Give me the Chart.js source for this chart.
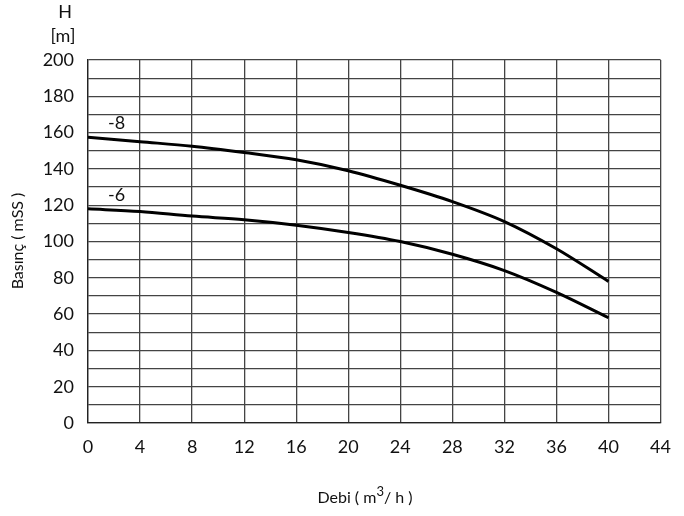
<!DOCTYPE html>
<html>
<head>
<meta charset="utf-8">
<script src="https://cdn.jsdelivr.net/npm/chart.js@4.4.1/dist/chart.umd.min.js"></script>
<style>
  html, body { margin: 0; padding: 0; background: #fff; }
  #wrap { width: 684px; height: 516px; position: relative; }
</style>
</head>
<body>
<div id="wrap"><canvas id="c" width="684" height="516"></canvas></div>
<script>
const flowValues = [0, 4, 8, 12, 16, 20, 24, 28, 32, 36, 40];
const headMinus8 = [157.5, 155, 152.5, 149, 145, 139, 131, 122, 111, 96, 78];
const headMinus6 = [118, 116.5, 114, 112, 109, 105, 100, 93, 84, 72, 58];
const seriesLabels = ["-8", "-6"];

const FONT = "Lato, 'DejaVu Sans', sans-serif";

const toPoints = (ys) => flowValues.map((x, i) => ({ x, y: ys[i] }));

const textPlugin = {
  id: "texts",
  afterDraw(chart) {
    const { ctx, scales } = chart;
    ctx.save();
    ctx.fillStyle = "#111";
    ctx.textAlign = "center";
    ctx.textBaseline = "middle";
    ctx.font = "18px " + FONT;
    ctx.fillText("H", 65, 12);
    ctx.fillText("[m]", 63, 36);

    // curve labels
    chart.data.datasets.forEach((ds, i) => {
      const p = ds.data[0];
      const px = scales.x.getPixelForValue(2.2);
      const py = scales.y.getPixelForValue(p.y) - 14;
      ctx.fillText(seriesLabels[i], px, py);
    });

    // x axis title with a raised 3
    ctx.textAlign = "left";
    ctx.textBaseline = "alphabetic";
    ctx.font = "16px " + FONT;
    const a = "Debi ( m", b = "/ h )";
    ctx.font = "13px " + FONT;
    const supW = ctx.measureText("3").width;
    ctx.font = "16px " + FONT;
    const total = ctx.measureText(a).width + supW + ctx.measureText(b).width;
    let x = 365 - total / 2;
    const base = 503;
    ctx.fillText(a, x, base);
    x += ctx.measureText(a).width;
    ctx.font = "13px " + FONT;
    ctx.fillText("3", x, base - 7);
    x += supW;
    ctx.font = "16px " + FONT;
    ctx.fillText(b, x, base);

    // y axis title
    ctx.textAlign = "center";
    ctx.textBaseline = "middle";
    ctx.translate(18, 241);
    ctx.rotate(-Math.PI / 2);
    ctx.fillText("Basın\u00E7 ( mSS )", 0, 0);
    ctx.restore();
  }
};

new Chart(document.getElementById("c"), {
  type: "line",
  data: {
    datasets: [
      {
        label: seriesLabels[0],
        data: toPoints(headMinus8),
        borderColor: "#000",
        borderWidth: 3,
        pointRadius: 0,
        cubicInterpolationMode: "monotone",
        fill: false
      },
      {
        label: seriesLabels[1],
        data: toPoints(headMinus6),
        borderColor: "#000",
        borderWidth: 3,
        pointRadius: 0,
        cubicInterpolationMode: "monotone",
        fill: false
      }
    ]
  },
  options: {
    responsive: false,
    animation: false,
    layout: { padding: { top: 60, right: 23, left: 0, bottom: 0 } },
    plugins: {
      legend: { display: false },
      tooltip: { enabled: false }
    },
    scales: {
      x: {
        type: "linear",
        min: 0,
        max: 44,
        afterFit(scale) { scale.height = 93; },
        ticks: {
          stepSize: 4,
          color: "#111",
          padding: 13,
          maxRotation: 0,
          font: { family: FONT, size: 18 }
        },
        grid: { color: "#444", lineWidth: 1.3, drawTicks: false },
        border: { color: "#222", width: 1.3 }
      },
      y: {
        min: 0,
        max: 200,
        afterFit(scale) { scale.width = 88; },
        ticks: {
          stepSize: 10,
          color: "#111",
          padding: 14,
          autoSkip: false,
          font: { family: FONT, size: 18 },
          callback: (v) => (v % 20 === 0 ? v : "")
        },
        grid: { color: "#444", lineWidth: 1.3, drawTicks: false },
        border: { color: "#222", width: 1.3 }
      }
    }
  },
  plugins: [textPlugin]
});
</script>
</body>
</html>
